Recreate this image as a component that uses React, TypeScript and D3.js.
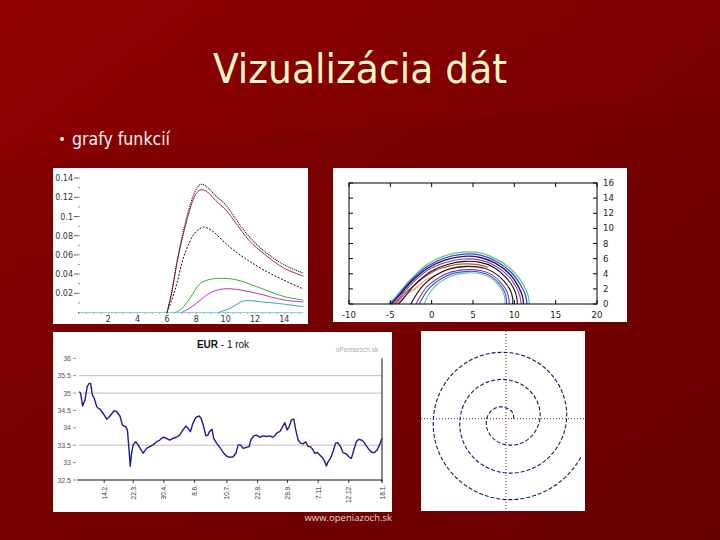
import React from "react";
import * as d3 from "d3";

const TITLE = "Vizualizácia dát";
const BULLET = "grafy funkcií";
const FOOTER = "www.openiazoch.sk";

// ---------- Panel 1: density-like curves ----------
const p1XTicks = [2, 4, 6, 8, 10, 12, 14];
const p1YTicks = [0.02, 0.04, 0.06, 0.08, 0.1, 0.12, 0.14];
const p1Baseline: [number, number][] = [[0, 0], [15.3, 0]];
const p1TopBlack: [number, number][] = [[6, 0], [6.3, 0.02], [6.7, 0.055], [7.1, 0.084], [7.5, 0.108], [7.8, 0.122], [8.1, 0.131], [8.36, 0.1335], [8.7, 0.131], [9.3, 0.122], [10, 0.112], [10.8, 0.095], [11.6, 0.079], [12.7, 0.063], [14, 0.0495], [15.3, 0.041]];
const p1Red: [number, number][] = [[6, 0], [6.3, 0.019], [6.7, 0.053], [7.1, 0.081], [7.5, 0.104], [7.8, 0.118], [8.1, 0.126], [8.4, 0.128], [8.8, 0.125], [9.3, 0.117], [10, 0.107], [10.8, 0.091], [11.6, 0.075], [12.7, 0.06], [14, 0.046], [15.3, 0.038]];
const p1DashBlack: [number, number][] = [[6, 0], [6.3, 0.012], [6.65, 0.029], [7.1, 0.056], [7.5, 0.072], [7.8, 0.081], [8.2, 0.087], [8.5, 0.089], [9, 0.086], [10, 0.072], [10.8, 0.062], [11.66, 0.053], [12.8, 0.0426], [14.2, 0.032], [15.3, 0.0245]];
const p1Green: [number, number][] = [[6.55, 0], [7, 0.004], [7.57, 0.015], [8.25, 0.03], [8.8, 0.034], [9.6, 0.0356], [10.75, 0.034], [12.1, 0.027], [14, 0.0165], [15.3, 0.013]];
const p1Magenta: [number, number][] = [[7, 0], [7.5, 0.004], [8, 0.0095], [8.9, 0.02], [9.6, 0.024], [10.5, 0.0245], [12.1, 0.02], [14, 0.013], [15.3, 0.011]];
const p1Cyan: [number, number][] = [[9.5, 0], [10.3, 0.0044], [10.8, 0.009], [11.2, 0.012], [11.66, 0.0123], [12.5, 0.011], [13.5, 0.0096], [15.3, 0.006]];

// ---------- Panel 2: contour arcs ----------
const p2XTicks = [-10, -5, 0, 5, 10, 15, 20];
const p2YTicks = [0, 2, 4, 6, 8, 10, 12, 14, 16];
const c1: [number, number][] = [[-5.15, 0], [-4.3, 1.0], [-2.6, 3.2], [-0.6, 5.2], [1.4, 6.3], [3.9, 6.88], [5.9, 6.75], [7.9, 5.9], [9.9, 4.3], [11.1, 2.55], [11.7, 1.0], [11.8, 0]];
const c2: [number, number][] = [[-5.0, 0], [-4.15, 1.0], [-2.5, 3.1], [-0.5, 5.0], [1.5, 6.05], [3.9, 6.6], [5.9, 6.45], [7.8, 5.65], [9.7, 4.1], [10.8, 2.45], [11.4, 1.0], [11.5, 0]];
const c3: [number, number][] = [[-4.85, 0], [-4.0, 1.0], [-2.4, 3.0], [-0.4, 4.8], [1.6, 5.8], [3.9, 6.3], [5.9, 6.15], [7.7, 5.4], [9.5, 3.9], [10.5, 2.3], [11.0, 0.95], [11.1, 0]];
const c4: [number, number][] = [[-4.6, 0], [-3.8, 0.95], [-2.25, 2.85], [-0.3, 4.6], [1.7, 5.5], [3.9, 5.95], [5.9, 5.8], [7.6, 5.1], [9.3, 3.7], [10.25, 2.2], [10.7, 0.9], [10.8, 0]];
const c5: [number, number][] = [[-4.0, 0], [-3.3, 0.9], [-2.0, 2.6], [-0.1, 4.3], [1.8, 5.2], [4.0, 5.64], [5.9, 5.5], [7.5, 4.85], [9.0, 3.5], [9.9, 2.1], [10.3, 0.85], [10.35, 0]];
const c6: [number, number][] = [[-4.4, 0], [-3.7, 0.8], [-3.2, 1.4], [-2.4, 2.2], [-1.2, 3.3], [0.4, 4.4], [2.2, 5.05], [4.0, 5.3], [5.6, 5.2], [6.8, 4.85]];
const c6b: [number, number][] = [[-4.3, 0], [-3.6, 0.5], [-3.0, 1.3], [-2.0, 2.0], [-0.8, 3.1], [0.8, 4.0], [2.5, 4.7], [4.2, 4.95], [6.3, 4.7]];
const c7: [number, number][] = [[-2.5, 0], [-2.0, 1.0], [-1.0, 2.5], [0.5, 3.8], [2.2, 4.65], [4.2, 4.98], [5.9, 4.85], [7.4, 4.25], [8.7, 3.1], [9.5, 1.85], [9.8, 0.75], [9.8, 0]];
const c8: [number, number][] = [[-1.9, 0], [-1.4, 1.0], [-0.5, 2.35], [0.9, 3.5], [2.4, 4.25], [4.3, 4.54], [5.9, 4.42], [7.3, 3.85], [8.4, 2.8], [9.1, 1.65], [9.35, 0.65], [9.37, 0]];
const c9: [number, number][] = [[-1.5, 0], [-1.0, 1.0], [-0.2, 2.2], [1.1, 3.3], [2.6, 4.05], [4.4, 4.32], [5.9, 4.2], [7.2, 3.65], [8.2, 2.65], [8.85, 1.55], [9.05, 0.6], [9.08, 0]];
const c10: [number, number][] = [[-0.9, 0], [-0.5, 1.0], [0.2, 2.1], [1.3, 3.1], [2.8, 3.85], [4.4, 4.12], [5.9, 4.0], [7.1, 3.5], [8.0, 2.6], [8.65, 1.5], [8.87, 0.6], [8.88, 0]];

// ---------- Panel 3: EUR - 1 rok ----------
const eurTitle = "EUR";
const eurSubtitle = " - 1 rok";
const eurSource = "oPeniazoch.sk";
const eurYTicks = [36, 35.5, 35, 34.5, 34, 33.5, 33, 32.5];
const eurGrid = [35.5, 35, 33.5];
const eurTickDays = [30, 65, 102, 139, 178, 215, 251, 288, 325, 365];
const eurTickLabels = ["14.2.", "22.3.", "30.4.", "8.6.", "10.7.", "22.8.", "29.9.", "7.11.", "12.12.", "18.1."];
const eurSeries: [number, number][] = [
  [0, 35.04], [1.6, 34.99], [4, 34.63], [6.8, 34.8], [9.6, 35.19], [12, 35.28], [13.7, 35.28], [15.7, 34.95], [18, 34.85], [21, 34.61],
  [23, 34.56], [25, 34.54], [27, 34.47], [30, 34.37], [33, 34.25], [37, 34.34], [42, 34.49], [45, 34.47], [49, 34.34], [52, 34.08],
  [56, 34.03], [58, 33.94], [60, 33.36], [61.4, 32.9], [63, 33.27], [65, 33.51], [68, 33.6], [71, 33.51], [74, 33.38], [77, 33.27],
  [81, 33.41], [85, 33.46], [89, 33.51], [93, 33.6], [97, 33.65], [101, 33.73], [105, 33.7], [109, 33.65], [113, 33.7], [117, 33.73],
  [121, 33.79], [125, 33.94], [128.5, 34.05], [131, 33.99], [134, 33.89], [137, 34.13], [140.5, 34.3], [144.6, 34.34], [147, 34.27], [150, 34.03],
  [152.6, 33.77], [155, 33.79], [157, 33.89], [160, 33.96], [162, 33.7], [165.5, 33.56], [169.5, 33.44], [173.5, 33.29], [177.5, 33.19], [181.5, 33.15],
  [185.5, 33.17], [188.8, 33.27], [191.6, 33.51], [194.4, 33.51], [197.6, 33.41], [201.6, 33.44], [204.8, 33.46], [206.8, 33.65], [210.4, 33.77], [213.7, 33.79],
  [217.7, 33.73], [221.7, 33.77], [225.7, 33.75], [229.7, 33.77], [233, 33.73], [235.7, 33.77], [238.6, 33.86], [241.8, 33.89], [245, 34.03], [247.8, 34.15],
  [250.6, 33.94], [253, 34.03], [255.8, 34.23], [258.6, 34.25], [261, 33.94], [263.9, 33.65], [266.7, 33.56], [269.9, 33.54], [273, 33.6], [276, 33.46],
  [278.7, 33.46], [282, 33.36], [284, 33.27], [287, 33.29], [290, 33.22], [293, 33.15], [296, 33.03], [298, 32.9], [300, 33.03], [302.8, 33.12],
  [306, 33.32], [309, 33.56], [312, 33.57], [315, 33.46], [318, 33.29], [322, 33.25], [325, 33.17], [328, 33.12], [331, 33.36], [334, 33.6],
  [337, 33.67], [340, 33.65], [343, 33.6], [346, 33.48], [350, 33.36], [353, 33.29], [356, 33.29], [359, 33.36], [362, 33.51], [365, 33.7],
];

// ---------- Panel 4: spiral ----------
const spiralTurns = [0, 0.25, 0.5, 0.75, 1, 1.25, 1.5, 1.75, 2, 2.25, 2.5, 2.75, 2.926];
const spiralRadius = [0.22, 0.32, 0.58, 0.78, 1.02, 1.17, 1.38, 1.63, 1.82, 1.99, 2.18, 2.43, 2.53];

export default function App() {
  // Panel 1 scales
  const x1 = d3.scaleLinear().domain([0, 15]).range([79, 299]);
  const y1 = d3.scaleLinear().domain([0, 0.14]).range([312.5, 178.1]);
  const line1 = d3.line<[number, number]>().x(d => x1(d[0])).y(d => y1(d[1])).curve(d3.curveCatmullRom.alpha(0.5));
  const p1Series = [
    { d: p1Baseline, stroke: "#7fd8e0", dash: undefined, w: 1 },
    { d: p1Cyan, stroke: "#2aa8a8", dash: undefined, w: 1 },
    { d: p1Magenta, stroke: "#c030c0", dash: undefined, w: 1 },
    { d: p1Green, stroke: "#30b030", dash: undefined, w: 1 },
    { d: p1DashBlack, stroke: "#111", dash: "2,1.5", w: 1 },
    { d: p1Red, stroke: "#a03030", dash: undefined, w: 1 },
    { d: p1TopBlack, stroke: "#111", dash: "1,1", w: 1.1 },
  ];
  const p1Dots = d3.range(0, 15.01, 0.5);
  const p1YDots = d3.range(0, 0.1405, 0.01);

  // Panel 2 scales
  const x2 = d3.scaleLinear().domain([-10, 20]).range([349, 597]);
  const y2 = d3.scaleLinear().domain([0, 16]).range([304, 183]);
  const line2 = d3.line<[number, number]>().x(d => x2(d[0])).y(d => y2(d[1])).curve(d3.curveCatmullRom.alpha(0.5));
  const p2Series = [
    { d: c1, stroke: "#5cc86a", w: 1.2 },
    { d: c2, stroke: "#3344dd", w: 1.3 },
    { d: c3, stroke: "#22116e", w: 1.3 },
    { d: c4, stroke: "#9a3cb0", w: 1.1 },
    { d: c6b, stroke: "#e5a080", w: 1.3 },
    { d: c6, stroke: "#b05a36", w: 1.3 },
    { d: c5, stroke: "#111", w: 1.1 },
    { d: c7, stroke: "#111", w: 1.1 },
    { d: c8, stroke: "#8a3ab0", w: 1.1 },
    { d: c9, stroke: "#3f52d0", w: 1.1 },
    { d: c10, stroke: "#66cc88", w: 1.1 },
  ];

  // Panel 3 scales
  const x3 = d3.scaleLinear().domain([0, 365]).range([79.3, 382]);
  const y3 = d3.scaleLinear().domain([32.5, 36]).range([480, 358.3]);
  const line3 = d3.line<[number, number]>().x(d => x3(d[0])).y(d => y3(d[1])).curve(d3.curveLinear);

  // Panel 4 spiral
  const cx = 506, cy = 418.7;
  const rScale = d3.scaleLinear().domain([0, 1]).range([0, 33.3]);
  const turnToRadius = d3.scaleLinear().domain(spiralTurns).range(spiralRadius);
  const tSamples = d3.range(0, spiralTurns[spiralTurns.length - 1] + 0.0001, 0.005);
  const spiralPts: [number, number][] = tSamples.map(t => {
    const r = rScale(turnToRadius(t));
    const a = 2 * Math.PI * t;
    return [cx + r * Math.cos(a), cy - r * Math.sin(a)];
  });
  const spiralPath = d3.line().curve(d3.curveLinear)(spiralPts) || "";

  const labelFont = "DejaVu Sans, sans-serif";

  return (
    <svg width={720} height={540} style={{ position: "absolute", left: 0, top: 0, display: "block" }}>
      <defs>
        <linearGradient id="bg" x1="0" y1="0" x2="1" y2="1">
          <stop offset="0" stopColor="#900000" />
          <stop offset="0.5" stopColor="#7c0000" />
          <stop offset="1" stopColor="#6c0000" />
        </linearGradient>
      </defs>
      <rect x={0} y={0} width={720} height={540} fill="url(#bg)" />
      <polygon points="0,160 720,95 720,540 0,540" fill="#000" opacity={0.04} />

      <text x={360} y={83} textAnchor="middle" fontFamily="DejaVu Sans Condensed, DejaVu Sans, sans-serif" fontSize={41} fill="#fff6c8" textLength={294} lengthAdjust="spacingAndGlyphs">{TITLE}</text>
      <circle cx={62} cy={139} r={2} fill="#ffffff" />
      <text x={72} y={145} fontFamily="DejaVu Sans Condensed, DejaVu Sans, sans-serif" fontSize={17} fill="#f4f4f4" textLength={98} lengthAdjust="spacingAndGlyphs">{BULLET}</text>

      {/* Panel 1 */}
      <rect x={53} y={168} width={255} height={156} fill="#ffffff" />
      {p1YDots.map((v, i) => (
        <rect key={"yd" + i} x={x1(0) - 0.5} y={y1(v) - 0.5} width={1} height={1} fill="#333" />
      ))}
      {p1Dots.map((v, i) => (
        <rect key={"xd" + i} x={x1(v) - 0.5} y={y1(0) - 0.5} width={1} height={1.5} fill="#333" />
      ))}
      {p1YTicks.map(v => (
        <g key={"p1y" + v}>
          <line x1={74} x2={78} y1={y1(v)} y2={y1(v)} stroke="#333" strokeWidth={0.8} />
          <text x={73} y={y1(v) + 3} textAnchor="end" fontFamily={labelFont} fontSize={8} fill="#333">{String(v)}</text>
        </g>
      ))}
      {p1XTicks.map(v => (
        <text key={"p1x" + v} x={x1(v)} y={322} textAnchor="middle" fontFamily={labelFont} fontSize={8} fill="#333">{String(v)}</text>
      ))}
      {p1Series.map((s, i) => (
        <path key={"p1s" + i} d={line1(s.d) || ""} fill="none" stroke={s.stroke} strokeWidth={s.w} strokeDasharray={s.dash} />
      ))}

      {/* Panel 2 */}
      <rect x={333} y={168} width={294} height={154} fill="#ffffff" />
      {p2Series.map((s, i) => (
        <path key={"p2s" + i} d={line2(s.d) || ""} fill="none" stroke={s.stroke} strokeWidth={s.w} />
      ))}
      <rect x={x2(-10)} y={y2(16)} width={x2(20) - x2(-10)} height={y2(0) - y2(16)} fill="none" stroke="#000" strokeWidth={1} />
      {p2YTicks.map(v => (
        <g key={"p2y" + v}>
          <line x1={x2(-10)} x2={x2(-10) + 4} y1={y2(v)} y2={y2(v)} stroke="#000" strokeWidth={1} />
          <line x1={x2(20)} x2={x2(20) - 4} y1={y2(v)} y2={y2(v)} stroke="#000" strokeWidth={1} />
          <text x={603} y={y2(v) + 3} fontFamily={labelFont} fontSize={8.5} fill="#222">{String(v)}</text>
        </g>
      ))}
      {p2XTicks.map(v => (
        <g key={"p2x" + v}>
          <line x1={x2(v)} x2={x2(v)} y1={y2(16)} y2={y2(16) + 4} stroke="#000" strokeWidth={1} />
          <line x1={x2(v)} x2={x2(v)} y1={y2(0)} y2={y2(0) - 4} stroke="#000" strokeWidth={1} />
          <text x={x2(v)} y={318} textAnchor="middle" fontFamily={labelFont} fontSize={8.5} fill="#222">{String(v)}</text>
        </g>
      ))}

      {/* Panel 3 */}
      <rect x={53} y={332} width={339} height={180} fill="#ffffff" />
      <text x={223} y={348} textAnchor="middle" fontFamily="Liberation Sans, Arial, sans-serif" fontSize={10} fill="#111">
        <tspan fontWeight="bold">{eurTitle}</tspan>
        <tspan>{eurSubtitle}</tspan>
      </text>
      <text x={357} y={352} textAnchor="middle" fontFamily="Liberation Sans, Arial, sans-serif" fontSize={6.5} fill="#aaaaaa">{eurSource}</text>
      {eurGrid.map(v => (
        <line key={"g" + v} x1={x3(0)} x2={x3(365)} y1={y3(v)} y2={y3(v)} stroke="#bdbdbd" strokeWidth={1} />
      ))}
      {eurYTicks.map(v => (
        <g key={"ey" + v}>
          <text x={71} y={y3(v) + 2.5} textAnchor="end" fontFamily="Liberation Sans, Arial, sans-serif" fontSize={7} fill="#555">{String(v)}</text>
          <line x1={73} x2={76} y1={y3(v)} y2={y3(v)} stroke="#777" strokeWidth={0.8} />
        </g>
      ))}
      <line x1={x3(0) - 2} x2={x3(365)} y1={y3(32.5)} y2={y3(32.5)} stroke="#111" strokeWidth={1} />
      <line x1={x3(365)} x2={x3(365)} y1={y3(36)} y2={y3(32.5) + 2} stroke="#111" strokeWidth={1} />
      {eurTickDays.map((dd, i) => (
        <g key={"ex" + i}>
          <line x1={x3(dd)} x2={x3(dd)} y1={y3(32.5)} y2={y3(32.5) + 3} stroke="#111" strokeWidth={0.8} />
          <text transform={`translate(${x3(dd) + 2.5},${y3(32.5) + 5}) rotate(-90)`} textAnchor="end" fontFamily="Liberation Sans, Arial, sans-serif" fontSize={6.5} fill="#333">{eurTickLabels[i]}</text>
        </g>
      ))}
      <path d={line3(eurSeries) || ""} fill="none" stroke="#1c1c9a" strokeWidth={1.4} strokeLinejoin="round" />

      {/* Panel 4 */}
      <rect x={421} y={331} width={164} height={180} fill="#ffffff" />
      <line x1={421} x2={585} y1={cy} y2={cy} stroke="#7a2020" strokeWidth={1} strokeDasharray="1,2" />
      <line x1={cx} x2={cx} y1={331} y2={511} stroke="#7a2020" strokeWidth={1} strokeDasharray="1,2" />
      <path d={spiralPath} fill="none" stroke="#16165e" strokeWidth={1.1} strokeDasharray="4,2" />

      <text x={392} y={521} textAnchor="end" fontFamily="Open Sans, DejaVu Sans, sans-serif" fontSize={9.5} fill="#dddddd">{FOOTER}</text>
    </svg>
  );
}
